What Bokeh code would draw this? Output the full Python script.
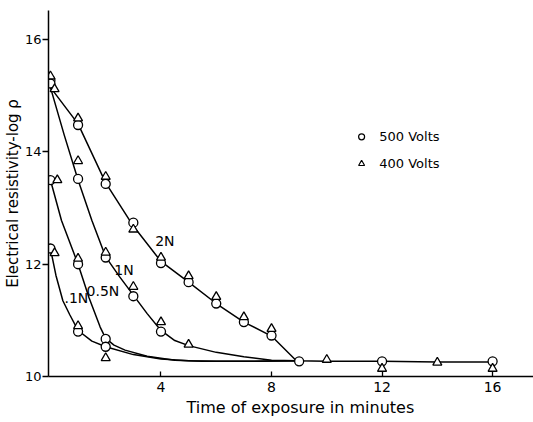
from bokeh.plotting import figure
from bokeh.models import Range1d, FixedTicker, Title
from bokeh.core.properties import value
from bokeh.embed import file_html
from bokeh.resources import INLINE

# ---- data ----
x_ticks = [4, 8, 12, 16]
y_ticks = [10, 12, 14, 16]

# smooth curves (vertices)
c2n_x = [0, 1, 2, 3, 4, 5, 6, 7, 8, 8.9, 10, 12, 14, 16]
c2n_y = [15.15, 14.5, 13.45, 12.68, 12.05, 11.68, 11.3, 10.97, 10.72, 10.28, 10.27, 10.27, 10.26, 10.26]
c1n_x = [0, 0.5, 1, 1.5, 2, 2.5, 3, 3.5, 4, 4.5, 5, 6, 7, 8, 8.9]
c1n_y = [15.15, 14.3, 13.5, 12.78, 12.13, 11.78, 11.45, 11.12, 10.82, 10.64, 10.55, 10.43, 10.35, 10.29, 10.28]
c05n_x = [0, 0.4, 1, 1.4, 1.8, 2, 2.3, 2.7, 3.5, 4.5, 5.5, 7, 8.9]
c05n_y = [13.5, 12.78, 12.0, 11.4, 10.88, 10.68, 10.56, 10.47, 10.36, 10.29, 10.27, 10.27, 10.28]
c01n_x = [0, 0.2, 0.45, 0.7, 1, 1.5, 2, 3, 4, 5, 6, 7, 8.9]
c01n_y = [12.28, 11.8, 11.35, 11.1, 10.82, 10.63, 10.53, 10.39, 10.31, 10.28, 10.27, 10.27, 10.28]

# measured points, 500 Volts (circles)
o2n_x = [0, 1, 2, 3, 4, 5, 6, 7, 8, 9, 12, 16]
o2n_y = [15.28, 14.48, 13.43, 12.74, 12.02, 11.68, 11.3, 10.97, 10.73, 10.27, 10.27, 10.27]
o1n_x = [0, 1, 2, 3, 4]
o1n_y = [15.22, 13.52, 12.12, 11.43, 10.8]
o05n_x = [0, 1, 2]
o05n_y = [13.5, 12.0, 10.67]
o01n_x = [0, 1, 2]
o01n_y = [12.28, 10.8, 10.53]

# measured points, 400 Volts (triangles)
t2n_x = [0, 1, 2, 3, 4, 5, 6, 7, 8, 10, 12, 14, 16]
t2n_y = [15.35, 14.6, 13.56, 12.62, 12.12, 11.79, 11.42, 11.06, 10.85, 10.3, 10.14, 10.25, 10.14]
t1n_x = [0.15, 1, 2, 3, 4, 5]
t1n_y = [15.12, 13.84, 12.21, 11.6, 10.97, 10.57]
t05n_x = [0.25, 1, 2]
t05n_y = [13.5, 12.1, 10.33]
t01n_x = [0.15, 1]
t01n_y = [12.2, 10.9]

curve_labels = ["2N", "1N", "0.5N", ".1N"]
curve_label_x = [4.14, 2.66, 1.9, 0.94]
curve_label_y = [12.42, 11.89, 11.53, 11.39]

legend_labels = ["500 Volts", "400 Volts"]

FONT = "DejaVu Sans"

p = figure(width=533, height=422, output_backend="svg", toolbar_location=None,
           x_range=Range1d(-0.07, 17.48), y_range=Range1d(10, 16.52),
           min_border_left=45, min_border_right=0, min_border_top=10, min_border_bottom=46)
p.outline_line_color = None
p.xgrid.visible = False
p.ygrid.visible = False
p.background_fill_color = "white"
p.border_fill_color = "white"

for ax in (p.xaxis, p.yaxis):
    ax.axis_line_width = 1.5
    ax.axis_line_color = "black"
    ax.major_tick_line_width = 1.3
    ax.major_tick_line_color = "black"
    ax.minor_tick_line_color = None
    ax.major_label_text_font = FONT
    ax.major_label_text_font_size = "14px"
    ax.major_label_text_color = "black"

p.yaxis.major_label_text_font_size = "13px"
p.xaxis.ticker = FixedTicker(ticks=x_ticks)
p.yaxis.ticker = FixedTicker(ticks=y_ticks)
p.xaxis.major_tick_in = 5
p.xaxis.major_tick_out = 0
p.xaxis.major_label_standoff = 5
p.yaxis.major_tick_in = 0
p.yaxis.major_tick_out = 6
p.yaxis.major_label_standoff = 1

p.yaxis.axis_label = "Electrical resistivity-log ρ"
p.yaxis.axis_label_text_font = FONT
p.yaxis.axis_label_text_font_size = "15px"
p.yaxis.axis_label_text_font_style = "normal"
p.yaxis.axis_label_text_color = "black"
p.yaxis.axis_label_standoff = 0

p.add_layout(Title(text="Time of exposure in minutes", align="left", offset=138,
                   text_font=FONT, text_font_size="16px", text_font_style="normal",
                   text_color="black", standoff=3), "below")

# curves
for cx, cy in [(c2n_x, c2n_y), (c1n_x, c1n_y), (c05n_x, c05n_y), (c01n_x, c01n_y)]:
    p.line(cx, cy, line_color="black", line_width=1.5)

# points
for ox, oy in [(o2n_x, o2n_y), (o1n_x, o1n_y), (o05n_x, o05n_y), (o01n_x, o01n_y)]:
    p.scatter(ox, oy, marker="circle", size=9, fill_color="white", line_color="black", line_width=1.3)
for tx, ty in [(t2n_x, t2n_y), (t1n_x, t1n_y), (t05n_x, t05n_y), (t01n_x, t01n_y)]:
    p.scatter(tx, ty, marker="triangle", size=9, fill_color="white", line_color="black", line_width=1.3)

# curve labels
p.text(curve_label_x, curve_label_y, text=curve_labels, text_font=value(FONT),
       text_font_size="14px", text_align="center", text_baseline="middle", text_color="black")

# legend
p.scatter([11.26], [14.27], marker="circle", size=6, fill_color="white", line_color="black", line_width=1.2)
p.scatter([11.26], [13.79], marker="triangle", size=6, fill_color="white", line_color="black", line_width=1.2)
p.text([11.9, 11.9], [14.27, 13.79], text=legend_labels, text_font=value(FONT),
       text_font_size="13px", text_align="left", text_baseline="middle", text_color="black")

open("out.html", "w").write(file_html(p, INLINE))
